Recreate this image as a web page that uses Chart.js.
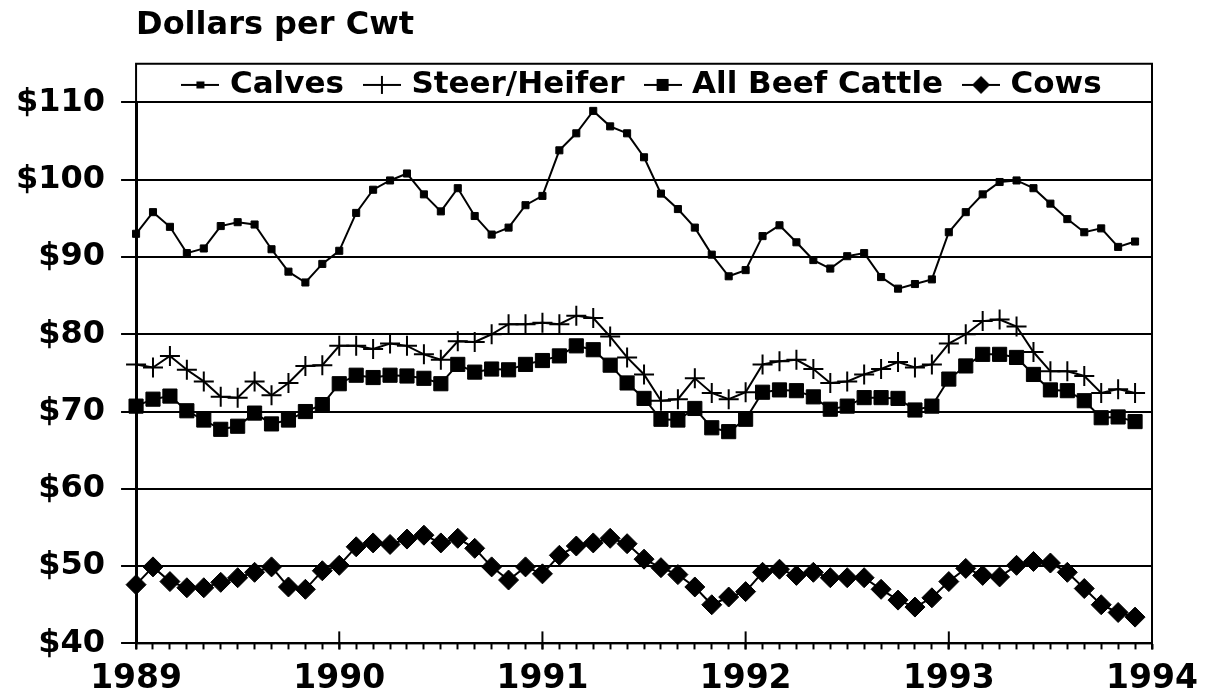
<!DOCTYPE html>
<html lang="en">
<head>
<meta charset="UTF-8">
<title>Dollars per Cwt</title>
<script src="https://cdn.jsdelivr.net/npm/chart.js"></script>
<style>
  body { margin: 0; background: #fff; }
</style>
</head>
<body>
<canvas id="chart" width="1208" height="697"></canvas>
<script>
// x positions are month indexes, 0 = Jan 1989, 60 = Jan 1994
const years = [1989, 1990, 1991, 1992, 1993, 1994];

const calves = [93.0, 95.8, 93.9, 90.5, 91.1, 94.0, 94.5, 94.2, 91.0, 88.1, 86.7, 89.1,
                90.8, 95.7, 98.7, 99.9, 100.8, 98.1, 95.9, 98.9, 95.3, 92.9, 93.8, 96.7,
                97.9, 103.8, 106.0, 108.9, 106.9, 106.0, 102.9, 98.2, 96.2, 93.8, 90.3, 87.5,
                88.3, 92.7, 94.1, 91.9, 89.6, 88.5, 90.1, 90.5, 87.4, 85.9, 86.5, 87.1,
                93.2, 95.8, 98.1, 99.7, 99.9, 98.9, 96.9, 94.9, 93.2, 93.7, 91.3, 92.0];

const steerHeifer = [76.1, 75.7, 77.2, 75.4, 73.9, 71.9, 71.8, 73.9, 72.1, 73.7, 75.9, 76.0,
                     78.5, 78.5, 78.1, 78.8, 78.5, 77.4, 76.7, 79.1, 79.0, 80.0, 81.3, 81.3,
                     81.5, 81.3, 82.4, 82.1, 79.7, 77.0, 74.8, 71.4, 71.6, 74.3, 72.4, 71.6,
                     72.5, 76.1, 76.5, 76.7, 75.5, 73.7, 73.9, 74.8, 75.5, 76.4, 75.7, 76.1,
                     78.8, 80.0, 81.7, 81.9, 81.0, 77.7, 75.2, 75.2, 74.6, 72.4, 72.9, 72.4];

const allBeefCattle = [70.7, 71.6, 72.0, 70.1, 68.9, 67.7, 68.1, 69.8, 68.4, 68.9, 70.0, 70.9,
                       73.6, 74.7, 74.4, 74.7, 74.6, 74.3, 73.6, 76.1, 75.1, 75.5, 75.4, 76.1,
                       76.6, 77.2, 78.5, 78.0, 76.0, 73.7, 71.7, 69.0, 68.9, 70.4, 67.9, 67.4,
                       69.0, 72.5, 72.8, 72.7, 71.9, 70.3, 70.7, 71.8, 71.8, 71.7, 70.2, 70.7,
                       74.2, 75.9, 77.4, 77.4, 77.0, 74.8, 72.8, 72.7, 71.4, 69.2, 69.3, 68.7];

const cows = [47.6, 49.9, 48.0, 47.2, 47.2, 47.9, 48.5, 49.2, 49.9, 47.3, 47.0, 49.4,
              50.1, 52.5, 53.0, 52.8, 53.5, 54.0, 53.0, 53.6, 52.3, 49.9, 48.2, 49.9,
              49.0, 51.4, 52.6, 53.0, 53.6, 52.9, 50.9, 49.8, 48.9, 47.3, 45.0, 46.0,
              46.7, 49.2, 49.6, 48.8, 49.2, 48.5, 48.5, 48.5, 47.0, 45.6, 44.7, 45.9,
              48.0, 49.7, 48.8, 48.6, 50.1, 50.6, 50.4, 49.2, 47.1, 45.0, 44.0, 43.4];

const FONT = 'DejaVu Sans';

function toPoints(values) {
    return values.map((v, i) => ({ x: i, y: v }));
}

// small line + marker pictures for the legend
function legendIcon(kind) {
    const c = document.createElement('canvas');
    c.width = 38;
    c.height = 24;
    const g = c.getContext('2d');
    g.strokeStyle = '#000';
    g.fillStyle = '#000';
    g.lineWidth = 2;
    g.beginPath();
    g.moveTo(0, 12);
    g.lineTo(38, 12);
    g.stroke();
    if (kind === 'small') {
        g.fillRect(15, 8.5, 8, 7);
    } else if (kind === 'cross') {
        g.beginPath();
        g.moveTo(19, 3);
        g.lineTo(19, 21);
        g.stroke();
    } else if (kind === 'square') {
        g.fillRect(13, 6, 12, 12);
    } else if (kind === 'diamond') {
        g.beginPath();
        g.moveTo(19, 3);
        g.lineTo(28, 12);
        g.lineTo(19, 21);
        g.lineTo(10, 12);
        g.closePath();
        g.fill();
    }
    return c;
}

const icons = [legendIcon('small'), legendIcon('cross'), legendIcon('square'), legendIcon('diamond')];

function series(label, values, style, radius) {
    return {
        label: label,
        data: toPoints(values),
        borderColor: '#000',
        backgroundColor: '#000',
        borderWidth: 2,
        pointStyle: style,
        pointRadius: radius,
        pointBorderWidth: style === 'cross' ? 2 : 1,
        pointBackgroundColor: '#000',
        pointBorderColor: '#000',
        tension: 0,
        clip: false
    };
}

// plot frame reaching up to $115, year ticks, legend placed inside frame
const framePlugin = {
    id: 'frame',
    afterInit(chart) {
        const lg = chart.legend;
        const fit = lg.fit;
        lg.fit = function () {
            fit.call(this);
            this.height = 38;
        };
    },
    beforeDraw(chart) {
        const lg = chart.legend;
        const mid = chart.chartArea.top - 18;
        lg.top = mid - 15 - lg.options.labels.padding;
        lg.bottom = lg.top + 90;
        lg.height = 90;
    },
    afterDraw(chart) {
        const { ctx, chartArea: a, scales: { x, y } } = chart;
        const top = y.getPixelForValue(115);
        ctx.save();
        ctx.strokeStyle = '#000';
        ctx.lineWidth = 2;
        ctx.strokeRect(a.left, top, a.right - a.left, a.bottom - top);
        years.forEach((yr, i) => {
            const px = x.getPixelForValue(i * 12);
            ctx.beginPath();
            ctx.moveTo(px, a.bottom - 12);
            ctx.lineTo(px, a.bottom + 6);
            ctx.stroke();
        });
        ctx.restore();
    }
};

new Chart(document.getElementById('chart'), {
    type: 'line',
    data: {
        datasets: [
            series('Calves', calves, 'rect', 5),
            series('Steer/Heifer', steerHeifer, 'cross', 10),
            series('All Beef Cattle', allBeefCattle, 'rect', 10),
            series('Cows', cows, 'rectRot', 10)
        ]
    },
    options: {
        responsive: false,
        animation: false,
        layout: { padding: { left: 0, right: 56, top: 0, bottom: -12 } },
        plugins: {
            title: {
                display: true,
                text: 'Dollars per Cwt',
                align: 'start',
                fullSize: false,
                color: '#000',
                font: { family: FONT, size: 32, weight: 'bold' },
                padding: { top: 6, bottom: 20 }
            },
            legend: {
                display: true,
                position: 'top',
                fullSize: false,
                labels: {
                    color: '#000',
                    font: { family: FONT, size: 31, weight: 'bold' },
                    usePointStyle: true,
                    pointStyleWidth: 28,
                    padding: 24,
                    generateLabels(chart) {
                        const items = Chart.defaults.plugins.legend.labels.generateLabels(chart);
                        items.forEach((it, i) => { it.pointStyle = icons[i]; });
                        return items;
                    }
                }
            },
            tooltip: { enabled: false }
        },
        scales: {
            x: {
                type: 'linear',
                min: 0,
                max: 60,
                border: { color: '#000', width: 2 },
                grid: {
                    drawOnChartArea: false,
                    drawTicks: true,
                    tickLength: 6,
                    tickColor: '#000',
                    tickWidth: 2
                },
                ticks: {
                    stepSize: 1,
                    autoSkip: false,
                    maxRotation: 0,
                    minRotation: 0,
                    padding: 10,
                    color: '#000',
                    font: { family: FONT, size: 33, weight: 'bold' },
                    callback: (v) => (v % 12 === 0 ? String(years[v / 12]) : '')
                }
            },
            y: {
                min: 40,
                max: 110,
                border: { color: '#000', width: 3 },
                grid: {
                    color: '#000',
                    lineWidth: 2,
                    drawTicks: true,
                    tickLength: 15,
                    tickColor: '#000'
                },
                ticks: {
                    stepSize: 10,
                    padding: 16,
                    color: '#000',
                    font: { family: FONT, size: 32, weight: 'bold' },
                    callback: (v) => '$' + v
                }
            }
        }
    },
    plugins: [framePlugin]
});
</script>
</body>
</html>
